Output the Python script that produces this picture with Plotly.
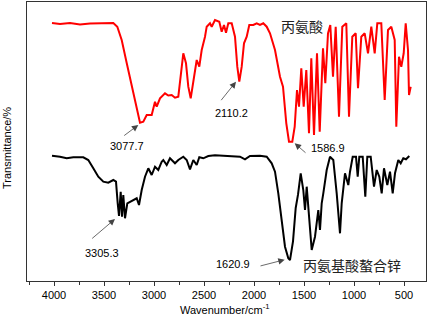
import plotly.graph_objects as go

# Alanine (red)
ala_wn = [4020, 3940, 3840, 3740, 3640, 3540, 3407, 3367, 3323, 3273, 3223, 3173, 3140, 3107, 3073,
          3023, 2990, 2973, 2940, 2890, 2857, 2823, 2790, 2757, 2733, 2707, 2680, 2657, 2633, 2607,
          2573, 2547, 2523, 2490, 2473, 2440, 2423, 2390, 2347, 2323, 2300, 2280, 2257, 2223, 2190,
          2167, 2147, 2123, 2100, 2073, 2047, 2007, 1973, 1940, 1907, 1873, 1840, 1790, 1740, 1710,
          1677, 1650, 1617, 1593, 1570, 1550, 1527, 1503, 1477, 1450, 1427, 1400, 1370, 1343, 1310,
          1287, 1260, 1237, 1210, 1183, 1150, 1117, 1077, 1050, 1017, 983, 960, 927, 893, 860,
          827, 793, 767, 727, 693, 660, 627, 593, 577, 550, 527, 503, 483, 460, 450, 433]
ala_t = [258, 257, 258, 256.5, 257.5, 258, 258, 254.3, 241, 218, 194.3, 171, 158.3, 159.3, 166,
         166, 179.3, 174.3, 182.7, 187.7, 185.5, 186, 183.3, 184.3, 207.7, 227.7, 217.7, 194.3, 182.7, 197.7,
         221, 214.3, 231, 244.3, 254.3, 257.7, 254.3, 261, 259.3, 249.3, 256, 248.3, 257.7, 257.7, 244.3,
         214.3, 199.3, 214.3, 237.7, 244.3, 256, 256, 257.7, 256, 257.7, 254.3, 247.7, 231, 204.3, 194.3,
         157.7, 139.3, 139.3, 154.3, 191, 174.3, 212.7, 174.3, 211, 147.7, 222.7, 146, 227.7, 149.3, 232.7,
         197.7, 247.7, 256, 204.3, 254.3, 164.3, 254.3, 257.7, 164.3, 244.3, 247.7, 192.7, 244.3, 247.7, 227.7,
         254.3, 227.7, 257.7, 257.7, 181, 251, 254.3, 241, 154.3, 224.3, 214.3, 227.7, 257.7, 231, 186, 194.3]

# Zinc alanine chelate (black)
zn_wn = [4020, 3940, 3873, 3807, 3707, 3657, 3607, 3557, 3507, 3457, 3407, 3380, 3363, 3350, 3333,
         3320, 3307, 3290, 3267, 3240, 3207, 3173, 3150, 3123, 3090, 3057, 3023, 2990, 2957, 2923,
         2907, 2873, 2840, 2790, 2757, 2707, 2673, 2640, 2607, 2573, 2547, 2507, 2457, 2390, 2307,
         2207, 2140, 2090, 2040, 1940, 1873, 1823, 1790, 1757, 1723, 1690, 1657, 1640, 1610, 1583,
         1560, 1533, 1507, 1490, 1473, 1457, 1423, 1390, 1357, 1340, 1323, 1307, 1273, 1240, 1207,
         1173, 1140, 1123, 1090, 1057, 1040, 1013, 980, 963, 947, 913, 887, 867, 833, 800,
         773, 747, 723, 700, 667, 640, 613, 590, 557, 533, 507, 480, 447]
zn_t = [125.3, 124.3, 122.7, 123.7, 123.7, 121, 112.7, 104.3, 99.3, 98.3, 101, 99.3, 77.7, 65, 89.3,
        64.3, 86, 62.7, 77.7, 79.3, 81, 82.7, 76, 91, 104.3, 112.7, 106, 114.3, 111, 119.3,
        121, 116, 122.7, 117.7, 121, 124.3, 121, 111.7, 121, 116, 123.7, 122.7, 125, 125.7, 125.3,
        125, 124.3, 121.7, 125, 125.3, 124.3, 117.7, 109.3, 87.7, 57.7, 34.3, 22.7, 21, 39.7, 73,
        86.3, 107.7, 91, 71, 94.3, 74.3, 31, 44.3, 71, 51, 77.7, 87.7, 111, 124.3, 121,
        87.7, 47.7, 77.7, 107.7, 96, 109.3, 124.3, 124.3, 104.3, 124.3, 124.3, 84.3, 124.3, 124.3, 94.3,
        111, 104.3, 87.7, 112.7, 96, 109.3, 87.7, 107.7, 121, 117.7, 122.7, 121.7, 125]

# Peak labels: text, text position, arrow tail, arrow tip
peak_labels = ["3077.7", "2110.2", "1586.9", "3305.3", "1620.9"]
label_pos = [(3275, 135.3), (2223, 167.7), (1260, 133.3), (3517, 28), (2210, 17)]
arrow_tail = [(3313, 144.3), (2340, 179.3), (1470, 127), (3633, 41.3), (1950, 14.7)]
arrow_tip = [(3157, 156), (2180, 199.3), (1593, 137.7), (3390, 62), (1693, 21.3)]

names = ["丙氨酸", "丙氨基酸螯合锌"]
name_pos = [(1520, 255), (1020, 16.3)]

tick_vals = [4000, 3500, 3000, 2500, 2000, 1500, 1000, 500]

fig = go.Figure()
fig.add_trace(go.Scatter(x=ala_wn, y=ala_t, mode="lines",
                         line=dict(color="#ff0000", width=2), showlegend=False, hoverinfo="skip"))
fig.add_trace(go.Scatter(x=zn_wn, y=zn_t, mode="lines",
                         line=dict(color="#000000", width=2), showlegend=False, hoverinfo="skip"))

annotations = []
for txt, (tx, ty), (ax, ay), (hx, hy) in zip(peak_labels, label_pos, arrow_tail, arrow_tip):
    annotations.append(dict(x=tx, y=ty, xref="x", yref="y", text=txt, showarrow=False,
                            xanchor="center", yanchor="middle",
                            font=dict(family="Arial, Liberation Sans", size=11, color="#000")))
    annotations.append(dict(x=hx, y=hy, ax=ax, ay=ay, xref="x", yref="y", axref="x", ayref="y",
                            text="", showarrow=True, arrowhead=2, arrowsize=1.6, arrowwidth=0.8,
                            arrowcolor="#444"))
for n, (nx, ny) in zip(names, name_pos):
    annotations.append(dict(x=nx, y=ny, xref="x", yref="y", text=n, showarrow=False,
                            xanchor="center", yanchor="middle",
                            font=dict(family="Noto Sans CJK SC", size=14, color="#222")))

annotations.append(dict(x=0.496, y=-0.102, xref="paper", yref="paper",
                        xanchor="center", yanchor="middle",
                        text="Wavenumber/cm<sup>-1</sup>", showarrow=False,
                        font=dict(family="Arial, Liberation Sans", size=11, color="#000")))
annotations.append(dict(x=-0.050, y=0.477, xref="paper", yref="paper",
                        xanchor="center", yanchor="middle",
                        text="Transmittance/%", showarrow=False, textangle=-90,
                        font=dict(family="Arial, Liberation Sans", size=11, color="#000")))

fig.update_layout(
    width=427, height=317,
    margin=dict(l=27, r=1, t=2, b=36),
    paper_bgcolor="white", plot_bgcolor="white",
    annotations=annotations,
    xaxis=dict(range=[4270, 280], tickvals=tick_vals, ticktext=[str(v) for v in tick_vals],
               ticks="outside", ticklen=4, tickcolor="#333", tickwidth=1,
               minor=dict(ticks="outside", ticklen=3, dtick=250, tick0=0, tickcolor="#333"),
               showline=True, linecolor="#333", linewidth=1, mirror=True, showgrid=False,
               zeroline=False,
               tickfont=dict(family="Arial, Liberation Sans", size=11, color="#000")),
    yaxis=dict(range=[0, 279], showticklabels=False, ticks="", showgrid=False, zeroline=False,
               showline=True, linecolor="#333", linewidth=1, mirror=True),
)

fig.write_html("out.html", config={"displayModeBar": False},
               post_script="document.body.style.margin='0';")
